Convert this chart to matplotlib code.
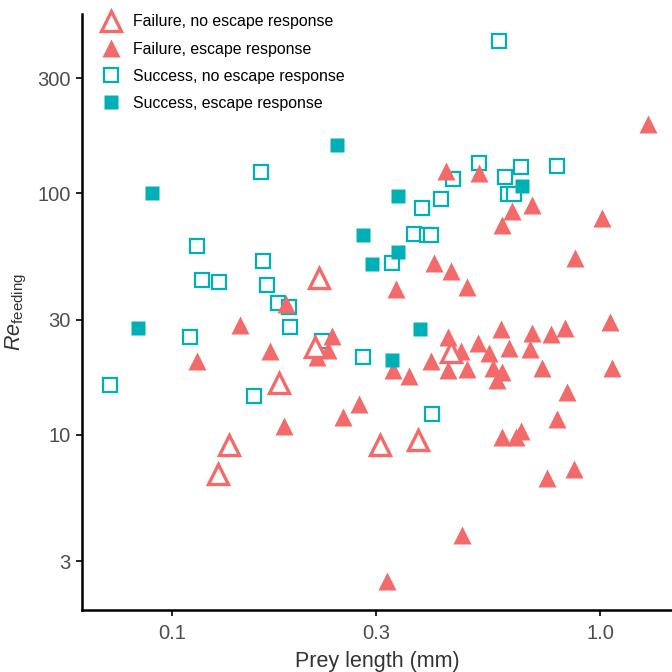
import numpy as np
import matplotlib
matplotlib.use("Agg")
import matplotlib.pyplot as plt
from matplotlib.lines import Line2D

plt.rcParams['font.family'] = ['Liberation Sans', 'DejaVu Sans']
plt.rcParams['mathtext.fontset'] = 'custom'
plt.rcParams['mathtext.rm'] = 'Liberation Sans'
plt.rcParams['mathtext.it'] = 'Liberation Sans:italic'

RED = '#F36A6A'
TEAL = '#00B0B6'

# Failure, no escape response (open triangles)
fail_noesc_x = [0.2211, 0.2161, 0.178, 0.1359, 0.128, 0.3064, 0.3764, 0.449]
fail_noesc_y = [44.6, 23.2, 16.4, 9.09, 6.90, 9.09, 9.53, 22.1]

# Failure, escape response (filled triangles)
fail_esc_x = [0.1445, 0.1148, 0.170, 0.1849, 0.1832, 0.2363, 0.2321, 0.2181, 0.2742, 0.2512,
              0.3293, 0.3575, 0.403, 0.622, 0.693, 0.590, 1.009, 0.875, 0.4097, 0.449,
              0.4898, 0.3335, 0.586, 0.693, 0.769, 0.830, 1.055, 0.441, 0.473, 0.52,
              0.551, 0.614, 0.688, 0.441, 0.49, 0.5616, 0.5914, 0.5747, 0.732, 1.065,
              0.839, 0.795, 0.5914, 0.653, 0.635, 0.751, 0.868, 0.4755, 0.3177, 0.436,
              0.521, 1.2955]
fail_esc_y = [28.5, 20.2, 22.3, 34.9, 10.9, 25.7, 22.5, 21.1, 13.5, 11.9,
              18.6, 17.5, 20.3, 84.6, 89.6, 74.1, 79.4, 53.9, 51.7, 47.8,
              40.8, 40.1, 27.5, 26.4, 26.2, 27.7, 29.4, 25.5, 22.3, 24.0,
              21.9, 22.9, 22.6, 18.6, 18.7, 18.9, 18.3, 16.9, 18.9, 18.9,
              15.1, 11.6, 9.78, 10.4, 9.78, 6.62, 7.23, 3.86, 2.49, 124,
              121, 194]

# Success, no escape response (open squares)
succ_noesc_x = [0.0717, 0.1148, 0.1177, 0.1291, 0.1103, 0.1614, 0.1634, 0.1669, 0.177, 0.1882,
                0.189, 0.1554, 0.2239, 0.2797, 0.4046, 0.453, 0.521, 0.600, 0.654, 0.792,
                0.4247, 0.385, 0.611, 0.630, 0.367, 0.394, 0.402, 0.327, 0.582]
succ_noesc_y = [16.1, 60.7, 44.0, 42.9, 25.5, 123, 52.7, 41.8, 35.3, 33.9,
                28.1, 14.5, 24.6, 21.1, 12.2, 114.8, 134, 117.4, 129, 130,
                94.6, 86.9, 99.6, 99.6, 67.9, 67.6, 67.6, 51.4, 429]

# Success, escape response (filled squares)
succ_esc_x = [0.0900, 0.0834, 0.243, 0.280, 0.294, 0.3375, 0.3375, 0.327, 0.380, 0.658]
succ_esc_y = [100, 27.7, 158, 67.3, 51, 97.8, 57.3, 20.4, 27.5, 107]

fig = plt.figure(figsize=(6.72, 6.72), dpi=100)
ax = fig.add_axes([82 / 672, 62 / 672, 590 / 672, 596 / 672])

ax.plot(succ_noesc_x, succ_noesc_y, 's', ms=9.8, mfc='white', mec=TEAL, mew=1.6, ls='none')
ax.plot(fail_esc_x, fail_esc_y, '^', ms=13, mfc=RED, mec='none', ls='none')
ax.plot(fail_noesc_x, fail_noesc_y, '^', ms=14, mfc='white', mec=RED, mew=2.4, ls='none')
ax.plot(succ_esc_x, succ_esc_y, 's', ms=10.5, mfc=TEAL, mec='none', ls='none')

ax.set_xscale('log')
ax.set_yscale('log')
ax.set_xlim(0.0617, 1.473)
ax.set_ylim(1.886, 553)
ax.set_xticks([0.1, 0.3, 1.0])
ax.set_xticklabels(['0.1', '0.3', '1.0'])
ax.set_yticks([3, 10, 30, 100, 300])
ax.set_yticklabels(['3', '10', '30', '100', '300'])
ax.minorticks_off()

for s in ['top', 'right']:
    ax.spines[s].set_visible(False)
for s in ['left', 'bottom']:
    ax.spines[s].set_linewidth(1.8)
    ax.spines[s].set_color('black')
ax.tick_params(length=4, width=1.2, color='black', labelsize=14.5, labelcolor='#4D4D4D', pad=4)
ax.tick_params(axis='x', pad=6)

ax.set_xlabel('Prey length (mm)', fontsize=15.5, color='#333333', labelpad=6)
ax.set_ylabel(r'$\mathit{Re}_{\mathrm{feeding}}$', fontsize=15.5, color='#333333', labelpad=6)

handles = [
    Line2D([], [], marker='^', ms=14, mfc='white', mec=RED, mew=2.4, ls='none'),
    Line2D([], [], marker='^', ms=13, mfc=RED, mec='none', ls='none'),
    Line2D([], [], marker='s', ms=9.8, mfc='white', mec=TEAL, mew=1.6, ls='none'),
    Line2D([], [], marker='s', ms=10.5, mfc=TEAL, mec='none', ls='none'),
]
labels = ['Failure, no escape response', 'Failure, escape response',
          'Success, no escape response', 'Success, escape response']
ax.legend(handles, labels, loc='upper left', bbox_to_anchor=(93.5 / 672, 1 - 6.5 / 672),
          bbox_transform=fig.transFigure, frameon=False, fontsize=11.4, borderpad=0,
          handlelength=1.2, handletextpad=0.8, labelspacing=0.77)

fig.savefig('out.png', dpi=100)
